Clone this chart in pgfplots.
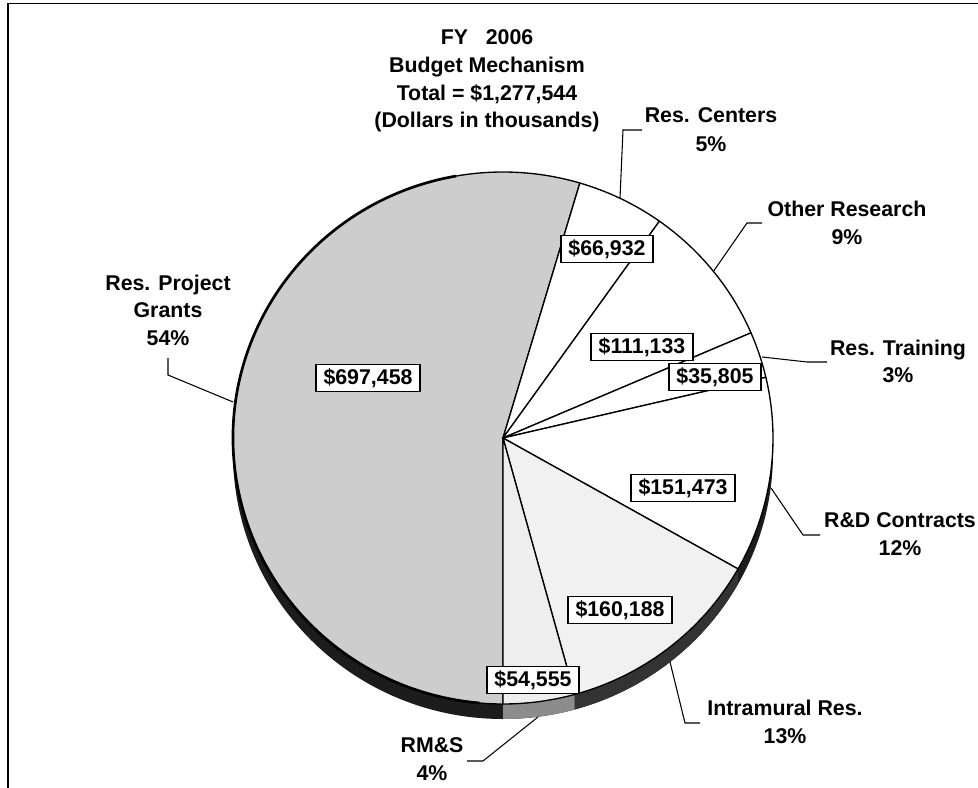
\documentclass[border=0pt]{standalone}
\usepackage{pgfplots}
\pgfplotsset{compat=1.18}
\usepackage{pgfplotstable}
\usepackage{fontspec}
\setmainfont{Liberation Sans}

\definecolor{grantsfill}{HTML}{CDCDCD}
\definecolor{intrafill}{HTML}{F1F1F1}
\definecolor{rmsfill}{HTML}{EEEEEE}
\definecolor{rimdark}{HTML}{1C1C1C}
\definecolor{rimintra}{HTML}{333333}
\definecolor{rimgray}{HTML}{8C8C8C}

\tikzset{
  box/.style={draw=black,fill=white,line width=1.1pt,inner xsep=5.6pt,inner ysep=3pt,
    text height=12pt,text depth=2.6pt,font=\bfseries\fontsize{16}{19}\selectfont},
  lab/.style={inner sep=0pt,anchor=base,font=\bfseries\fontsize{16}{19}\selectfont},
  lead/.style={draw=black,line width=0.8pt}}

% Budget mechanism, FY 2006 (dollars in thousands), clockwise from the bottom
\pgfplotstableread{
idx value
0 697458
1 66932
2 111133
3 35805
4 151473
5 160188
6 54555
}\budget

% total and slice boundary angles (start at -90, clockwise)
\xdef\total{0}
\pgfplotstableforeachcolumnelement{value}\of\budget\as\v{\xdef\total{\fpeval{\total+\v}}}
\xdef\acc{-90}
\pgfplotstableforeachcolumnelement{value}\of\budget\as\v{%
  \expandafter\xdef\csname b\pgfplotstablerow\endcsname{\acc}%
  \xdef\acc{\fpeval{round(\acc-360*\v/\total,4)}}%
  \expandafter\xdef\csname e\pgfplotstablerow\endcsname{\acc}}

\newcommand\slice[2]{%
  \filldraw[fill=#2,draw=black,line width=1pt,line join=round]
    (C) -- ++(\csname b#1\endcsname:202.5pt and 199.5pt)
    arc[start angle=\csname b#1\endcsname,end angle=\csname e#1\endcsname,x radius=202.5pt,y radius=199.5pt] -- cycle;}
\newcommand\rimpart[2]{%
  \fill[#2] (C) ++(\csname b#1\endcsname:202.5pt and 199.5pt)
    arc[start angle=\csname b#1\endcsname,end angle=\csname e#1\endcsname,x radius=202.5pt,y radius=199.5pt]
    -- ++(0pt,-11.25pt)
    arc[start angle=\csname e#1\endcsname,end angle=\csname b#1\endcsname,x radius=202.5pt,y radius=199.5pt] -- cycle;}

\begin{document}
\begin{tikzpicture}
\begin{axis}[x=0.75pt,y=0.75pt,xmin=0,xmax=978,ymin=0,ymax=788,
  hide axis,clip=false,scale only axis]
\coordinate (BL) at (axis cs:0,0);
\coordinate (TR) at (axis cs:978,788);
\coordinate (C) at (axis cs:503,350);
% frame
\draw[line width=1.4pt] (axis cs:8,0) -- (axis cs:8,784.5) -- (axis cs:978,784.5);
% 3D rim
\fill[rimdark] (C) ++(180:202.5pt and 199.5pt)
  arc[start angle=180,end angle=360,x radius=202.5pt,y radius=199.5pt]
  -- ++(0pt,-11.25pt)
  arc[start angle=360,end angle=180,x radius=202.5pt,y radius=199.5pt] -- cycle;
\rimpart{5}{rimintra}
\rimpart{6}{rimgray}
% slices
\slice{0}{grantsfill}
\slice{1}{white}
\slice{2}{white}
\slice{3}{white}
\slice{4}{white}
\slice{5}{intrafill}
\slice{6}{rmsfill}
\draw[line width=2pt] (C) ++(100:202.5pt and 199.5pt)
  arc[start angle=100,end angle=265,x radius=202.5pt,y radius=199.5pt];
% leader lines
\draw[lead] (axis cs:620,590) -- (axis cs:623,658) -- (axis cs:642,658);
\draw[lead] (axis cs:713,516) -- (axis cs:747,565) -- (axis cs:762,565);
\draw[lead] (axis cs:762,431) -- (axis cs:807,426) -- (axis cs:827,426);
\draw[lead] (axis cs:771,300) -- (axis cs:803,253) -- (axis cs:820,253);
\draw[lead] (axis cs:670,126) -- (axis cs:685,65) -- (axis cs:700,65);
\draw[lead] (axis cs:538,71) -- (axis cs:483,27) -- (axis cs:467,27);
\draw[lead] (axis cs:233,386) -- (axis cs:168,413) -- (axis cs:168,430);
% value boxes
\node[box] at (axis cs:368,410) {\$697,458};
\node[box] at (axis cs:607,539) {\$66,932};
\node[box] at (axis cs:642,441) {\$111,133};
\node[box] at (axis cs:715,411) {\$35,805};
\node[box] at (axis cs:683,300) {\$151,473};
\node[box] at (axis cs:620,178) {\$160,188};
\node[box] at (axis cs:533,108) {\$54,555};
% title
\node[lab] at (axis cs:487,743) {FY\ \ \ 2006};
\node[lab] at (axis cs:487,715) {Budget Mechanism};
\node[lab] at (axis cs:487,687) {Total = \$1,277,544};
\node[lab] at (axis cs:487,660) {(Dollars in thousands)};
% category labels
\node[lab] at (axis cs:711,665) {Res. Centers};
\node[lab] at (axis cs:711,636) {5\%};
\node[lab] at (axis cs:847,571) {Other Research};
\node[lab] at (axis cs:847,543) {9\%};
\node[lab] at (axis cs:898,432) {Res. Training};
\node[lab] at (axis cs:898,405) {3\%};
\node[lab] at (axis cs:900,260) {R\&D Contracts};
\node[lab] at (axis cs:900,232) {12\%};
\node[lab] at (axis cs:785,72) {Intramural Res.};
\node[lab] at (axis cs:785,44) {13\%};
\node[lab] at (axis cs:432,35) {RM\&S};
\node[lab] at (axis cs:432,7) {4\%};
\node[lab] at (axis cs:168,497) {Res. Project};
\node[lab] at (axis cs:168,470) {Grants};
\node[lab] at (axis cs:168,442) {54\%};
\end{axis}
\pgfresetboundingbox
\useasboundingbox (BL) rectangle (TR);
\end{tikzpicture}
\end{document}
